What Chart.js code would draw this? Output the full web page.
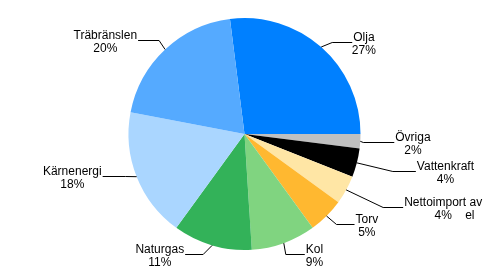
<!DOCTYPE html>
<html>
<head>
<meta charset="utf-8">
<script src="https://cdn.jsdelivr.net/npm/chart.js@4/dist/chart.umd.min.js"></script>
<style>
  body { margin: 0; background: #fff; }
  #wrap { width: 493px; height: 268px; }
</style>
</head>
<body>
<div id="wrap"><canvas id="pie" width="493" height="268"></canvas></div>
<script>
// energy sources, clockwise from Olja
var categories = ["Olja", "Övriga", "Vattenkraft", "Nettoimport av el", "Torv", "Kol", "Naturgas", "Kärnenergi", "Träbränslen"];
var shares = [27, 2, 4, 4, 5, 9, 11, 18, 20];
var colors = ["#0080ff", "#c0c0c0", "#000000", "#ffe6a5", "#ffb830", "#80d480", "#33b259", "#aad6ff", "#55aaff"];

// label text lines for each slice (the net import label wraps oddly)
var labelLines = [
    ["Olja"], ["Övriga"], ["Vattenkraft"], ["Nettoimport av", "el"], ["Torv"],
    ["Kol"], ["Naturgas"], ["Kärnenergi"], ["Träbränslen"]
];

// leader line: elbow offset from slice edge, then horizontal run
var leaders = [
    [11, -5, 20], [3, 1, 31], [36, 8, 23], [37, 17, 20], [10, 8, 18],
    [2, 11, 19], [-9, 9, -18], [-11, -1, -23], [-6, -9, -21]
];

var outsideLabels = {
    id: "outsideLabels",
    afterDatasetsDraw: function (chart) {
        var ctx = chart.ctx;
        var meta = chart.getDatasetMeta(0);
        ctx.save();
        ctx.font = "12px 'Liberation Sans', Arial, sans-serif";
        ctx.fillStyle = "#000";
        ctx.strokeStyle = "#000";
        ctx.lineWidth = 1;
        meta.data.forEach(function (arc, i) {
            var mid = (arc.startAngle + arc.endAngle) / 2;
            var sx = arc.x + Math.cos(mid) * arc.outerRadius;
            var sy = arc.y + Math.sin(mid) * arc.outerRadius;
            var ex = sx + leaders[i][0];
            var ey = Math.round(sy + leaders[i][1]) + 0.5;
            var hx = ex + leaders[i][2];
            ctx.beginPath();
            ctx.moveTo(sx, sy);
            ctx.lineTo(ex, ey);
            ctx.lineTo(hx, ey);
            ctx.stroke();

            var first = labelLines[i][0];
            var w = ctx.measureText(first).width;
            var left = leaders[i][2] > 0 ? hx + 1 : hx - 1 - w;
            var pct = shares[i] + "%";
            ctx.textBaseline = "alphabetic";
            ctx.textAlign = "left";
            ctx.fillText(first, left, ey - 2);
            var pw = ctx.measureText(pct).width;
            ctx.fillText(pct, left + (w - pw) / 2, ey + 11);
            if (labelLines[i][1]) {
                ctx.fillText(labelLines[i][1], left + 61, ey + 11);
            }
        });
        ctx.restore();
    }
};

var chart = new Chart(document.getElementById("pie"), {
    type: "pie",
    data: {
        labels: categories,
        datasets: [{
            data: shares,
            backgroundColor: colors,
            borderWidth: 0
        }]
    },
    options: {
        responsive: false,
        animation: false,
        rotation: -7.2,
        layout: { padding: { top: 18, bottom: 18, left: 0, right: 4 } },
        plugins: {
            legend: { display: false },
            tooltip: { enabled: false }
        }
    },
    plugins: [outsideLabels]
});
</script>
</body>
</html>
